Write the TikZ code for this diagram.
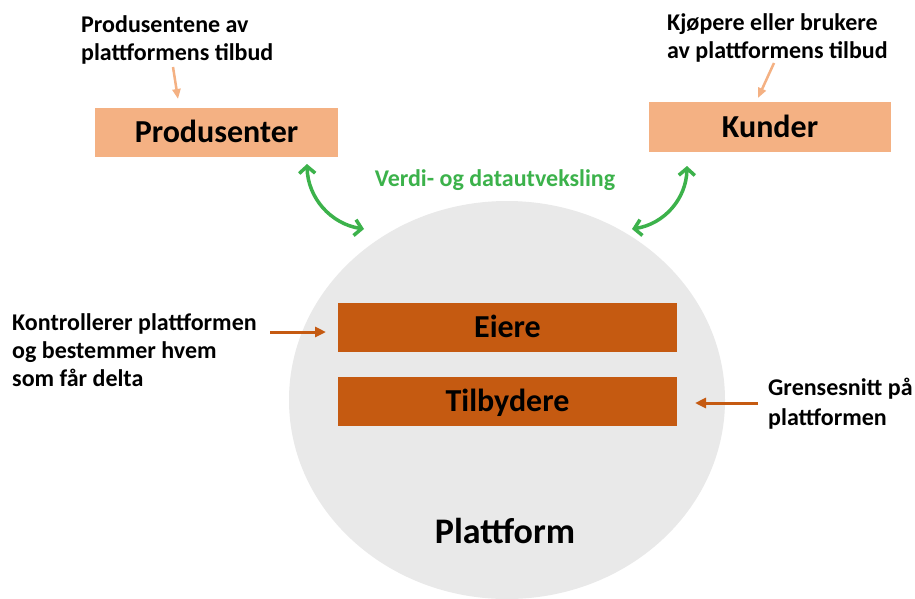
\documentclass[tikz,border=0pt]{standalone}
\usepackage{fontspec}
\setmainfont{Carlito}
\usetikzlibrary{arrows.meta,shapes.geometric}
\definecolor{lightor}{HTML}{F4B183}
\definecolor{darkor}{HTML}{C55A11}
\definecolor{grn}{RGB}{60,178,75}
\definecolor{platgrey}{HTML}{E9E9E9}
\begin{document}
\begin{tikzpicture}[x=1pt,y=1pt,
  boxbase/.style={inner sep=0pt, text height=20pt, text depth=0pt,
    font=\fontsize{32}{36}\selectfont\bfseries},
  topbox/.style={boxbase, fill=lightor, minimum height=49pt},
  innerbox/.style={boxbase, fill=darkor, minimum width=339pt, minimum height=49pt},
  note/.style={anchor=north west, align=left, inner sep=0pt,
    font=\fontsize{24}{28}\selectfont\bfseries},
  exch/.style={draw=grn, line width=3.5pt,
    {Straight Barb[length=7pt,width=16pt]}-{Straight Barb[length=7pt,width=16pt]}},
  pointer/.style={draw=lightor, line width=2.5pt, -{Triangle[length=10pt,width=8pt]}},
  darkpointer/.style={draw=darkor, line width=3pt, -{Triangle[length=11pt,width=10pt]}}
]
\path[use as bounding box, fill=white] (0,0) rectangle (915,-598);

% platform disc
\node[ellipse, fill=platgrey, minimum width=436pt, minimum height=398pt, inner sep=0pt] (plat) at (507,-400) {};
\node[anchor=base, inner sep=0pt, font=\fontsize{36}{40}\selectfont\bfseries] (plattxt) at (505,-543) {Plattform};

% boxes
\node[topbox, minimum width=243pt] (prod) at (216.5,-132.5) {Produsenter};
\node[topbox, minimum width=242pt, minimum height=50pt] (kund) at (770,-127) {Kunder};
\node[innerbox] (eier) at (507.5,-327.5) {Eiere};
\node[innerbox] (tilb) at (507.5,-401.5) {Tilbydere};

% notes
\node[note] (nprod) at (81,-15) {Produsentene av\\plattformens tilbud};
\node[note] (nkund) at (667,-13) {Kjøpere eller brukere\\av plattformens tilbud};
\node[note] (neier) at (12,-313) {Kontrollerer plattformen\\og bestemmer hvem\\som får delta};
\node[note, font=\fontsize{24}{30}\selectfont\bfseries] (ntilb) at (768,-378) {Grensesnitt på\\plattformen};
\node[anchor=base, inner sep=0pt, text=grn, font=\fontsize{24}{28}\selectfont\bfseries] (nexch) at (495,-186) {Verdi- og datautveksling};

% connector ends
\coordinate (pa) at (173,-67);
\coordinate (pb) at (178,-99);
\coordinate (ka) at (774,-63);
\coordinate (kb) at (758,-98);
\coordinate (ga1) at (307,-164);
\coordinate (ga2) at (364,-229);
\coordinate (gb1) at (687,-166);
\coordinate (gb2) at (632,-229);
\coordinate (ea) at (270,-332);
\coordinate (eb) at (326,-332);
\coordinate (ta) at (758,-403);
\coordinate (tb) at (695,-403);

\draw[pointer] (pa) -- (pb);
\draw[pointer] (ka) -- (kb);
\draw[exch] (ga1) to[bend right=40] (ga2);
\draw[exch] (gb1) to[bend left=40] (gb2);
\draw[darkpointer] (ea) -- (eb);
\draw[darkpointer] (ta) -- (tb);
\end{tikzpicture}
\end{document}
